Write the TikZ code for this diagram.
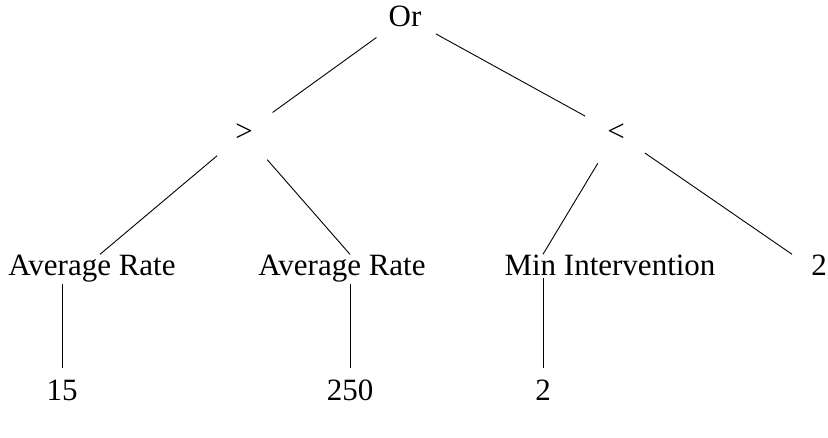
\documentclass[tikz,border=0pt]{standalone}
\usepackage{fontspec}
\setmainfont{Liberation Serif}
\usepackage{tikz}
\usetikzlibrary{calc, positioning}

\begin{document}
\begin{tikzpicture}[x=1pt, y=-1pt, font=\fontsize{31}{36}\selectfont,
    opnode/.style={circle, inner sep=0pt, minimum size=70pt, anchor=base},
    midnode/.style={inner sep=1pt, anchor=base},
    leafnode/.style={inner xsep=1pt, inner ysep=12pt, anchor=base},
    edge/.style={line width=0.9pt}]
    \useasboundingbox (0,0) rectangle (828,438);
    % Root
    \node[opnode] (or) at (405,27) {Or};
    % Operators
    \node[opnode] (gt) at (244,142) {>};
    \node[opnode] (lt) at (616,142) {<};
    % Operands
    \node[midnode] (ar1) at (92,276) {Average Rate};
    \node[midnode] (ar2) at (342,276) {Average Rate};
    \node[midnode] (mi) at (610,276) {Min Intervention};
    \node[midnode] (rtwo) at (819,276) {2};
    % Values
    \node[leafnode] (fifteen) at (62,401) {15};
    \node[leafnode] (twofifty) at (350,401) {250};
    \node[leafnode] (ltwo) at (543,401) {2};
    % Edges
    \draw[edge] (or) -- (gt);
    \draw[edge] (or) -- (lt);
    \draw[edge] (gt) -- (ar1.north -| 100,0);
    \draw[edge] (gt) -- (ar2.north -| twofifty);
    \draw[edge] (lt) -- (mi.north -| ltwo);
    \draw[edge] (lt) -- (rtwo.north -| 792,0);
    \draw[edge] (ar1.south -| fifteen) -- (fifteen);
    \draw[edge] (ar2.south -| twofifty) -- (twofifty);
    \draw[edge] (mi.south -| ltwo) -- (ltwo);
\end{tikzpicture}
\end{document}
